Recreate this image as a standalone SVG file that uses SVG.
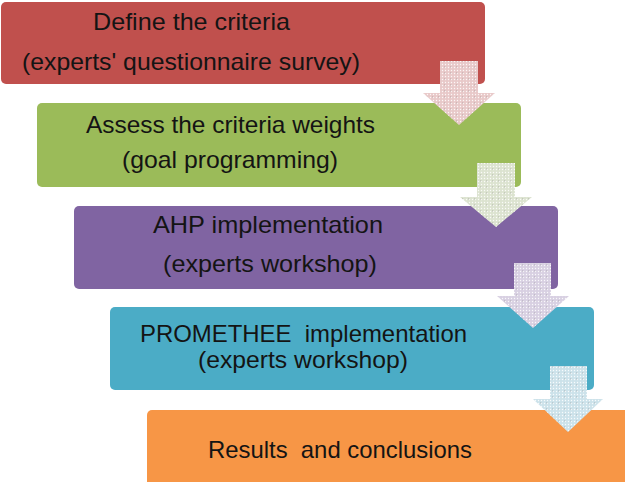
<svg xmlns="http://www.w3.org/2000/svg" width="625" height="482" viewBox="0 0 625 482">
<style>
.lbl{font-family:"Liberation Sans",Arial,sans-serif;font-size:24px;fill:#141414;white-space:pre}
.arr{stroke:none}
</style>
<defs>
<pattern id="dots" width="3" height="3" patternUnits="userSpaceOnUse">
<circle cx="1.5" cy="1.5" r="0.7" fill="#ffffff" fill-opacity="0.85"/>
</pattern>
<pattern id="dots2" width="6" height="6" patternUnits="userSpaceOnUse">
<circle cx="0.8" cy="0.8" r="0.6" fill="#707070" fill-opacity="0.45"/>
</pattern>
</defs>
<rect width="625" height="482" fill="#ffffff"/>
<g id="node1">
<rect x="1" y="2" width="484" height="82" rx="5" fill="#C0504D"/>
<text class="lbl" x="93" y="30" textLength="197" lengthAdjust="spacingAndGlyphs">Define the criteria</text>
<text class="lbl" x="22" y="70" textLength="338" lengthAdjust="spacingAndGlyphs">(experts' questionnaire survey)</text>
</g>
<g id="node2">
<rect x="37" y="103" width="484" height="84" rx="5" fill="#9BBB59"/>
<text class="lbl" x="86" y="133" textLength="289" lengthAdjust="spacingAndGlyphs">Assess the criteria weights</text>
<text class="lbl" x="122" y="168" textLength="216" lengthAdjust="spacingAndGlyphs">(goal programming)</text>
</g>
<g id="node3">
<rect x="74" y="206" width="484" height="83" rx="5" fill="#8064A2"/>
<text class="lbl" x="153" y="233" textLength="230" lengthAdjust="spacingAndGlyphs">AHP implementation</text>
<text class="lbl" x="163" y="272" textLength="214" lengthAdjust="spacingAndGlyphs">(experts workshop)</text>
</g>
<g id="node4">
<rect x="110" y="307" width="484" height="83" rx="5" fill="#4BACC6"/>
<text class="lbl" x="140" y="342" textLength="327" lengthAdjust="spacingAndGlyphs" xml:space="preserve">PROMETHEE  implementation</text>
<text class="lbl" x="198" y="368" textLength="210" lengthAdjust="spacingAndGlyphs">(experts workshop)</text>
</g>
<g id="node5">
<rect x="147" y="410" width="484" height="80" rx="5" fill="#F79646"/>
<text class="lbl" x="208" y="458" textLength="264" lengthAdjust="spacingAndGlyphs" xml:space="preserve">Results  and conclusions</text>
</g>
<g id="connectors">
<path class="arr" fill="#E8C9C9" d="M440,61 H478 V93 H495 L459,125 L423,93 H440 Z"/>
<path class="arr" fill="url(#dots)" d="M440,61 H478 V93 H495 L459,125 L423,93 H440 Z"/>
<path class="arr" fill="url(#dots2)" d="M440,61 H478 V93 H495 L459,125 L423,93 H440 Z"/>
<path class="arr" fill="#DCE3D0" d="M477,163 H515 V197 H532 L496,227 L460,197 H477 Z"/>
<path class="arr" fill="url(#dots)" d="M477,163 H515 V197 H532 L496,227 L460,197 H477 Z"/>
<path class="arr" fill="url(#dots2)" d="M477,163 H515 V197 H532 L496,227 L460,197 H477 Z"/>
<path class="arr" fill="#D8D0E2" d="M514,263 H551 V296 H569 L533,328 L497,296 H514 Z"/>
<path class="arr" fill="url(#dots)" d="M514,263 H551 V296 H569 L533,328 L497,296 H514 Z"/>
<path class="arr" fill="url(#dots2)" d="M514,263 H551 V296 H569 L533,328 L497,296 H514 Z"/>
<path class="arr" fill="#CCE2EA" d="M550,366 H587 V399 H603 L568,432 L533,399 H550 Z"/>
<path class="arr" fill="url(#dots)" d="M550,366 H587 V399 H603 L568,432 L533,399 H550 Z"/>
<path class="arr" fill="url(#dots2)" d="M550,366 H587 V399 H603 L568,432 L533,399 H550 Z"/>
</g>
</svg>
